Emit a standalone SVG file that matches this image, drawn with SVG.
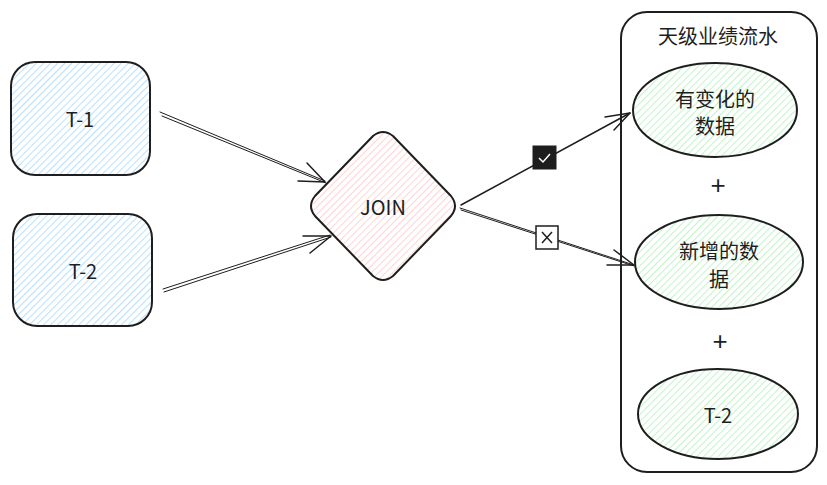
<svg xmlns="http://www.w3.org/2000/svg" width="827" height="485" viewBox="0 0 827 485">
<style>
.sk{stroke:#1e1e1e;stroke-width:2;stroke-linecap:round;stroke-linejoin:round}
.t{font-family:"Noto Sans CJK SC","Liberation Sans",sans-serif;font-size:20px;fill:#1e1e1e;text-anchor:middle;dominant-baseline:central}
.p{font-family:"Liberation Sans",sans-serif;font-size:26px;fill:#1e1e1e;text-anchor:middle;dominant-baseline:central}
.ln{fill:none;stroke:#1e1e1e;stroke-width:1.5;stroke-linecap:round}
.ln2{fill:none;stroke:#1e1e1e;stroke-width:1;stroke-linecap:round}
</style>
<defs>
<pattern id="hb" patternUnits="userSpaceOnUse" width="5" height="5" patternTransform="rotate(45)"><line x1="0" y1="0" x2="0" y2="5" stroke="#a5d8ff" stroke-width="1.6"/></pattern>
<pattern id="hr" patternUnits="userSpaceOnUse" width="5" height="5" patternTransform="rotate(45)"><line x1="0" y1="0" x2="0" y2="5" stroke="#ffc9c9" stroke-width="1.6"/></pattern>
<pattern id="hg" patternUnits="userSpaceOnUse" width="5" height="5" patternTransform="rotate(45)"><line x1="0" y1="0" x2="0" y2="5" stroke="#b2f2bb" stroke-width="1.6"/></pattern>
</defs>
<g id="t1"><rect x="11" y="62" width="139" height="113" rx="24" fill="url(#hb)" class="sk"/><text class="t" x="80" y="118">T-1</text></g>
<g id="t2"><rect x="13" y="214" width="139" height="112" rx="24" fill="url(#hb)" class="sk"/><text class="t" x="83" y="270">T-2</text></g>
<g id="join"><path d="M373,136 Q383,128 393,136 L451,196 Q459,206 451,216 L393,276 Q383,284 373,276 L315,216 Q307,206 315,196 Z" fill="url(#hr)" class="sk"/><text class="t" x="383" y="206" font-size="17">JOIN</text></g>
<g id="container"><rect x="621" y="12" width="196" height="460" rx="26" fill="none" class="sk"/><text class="t" x="718" y="35" font-size="19">天级业绩流水</text></g>
<g id="e1"><ellipse cx="715" cy="110" rx="82" ry="47" fill="url(#hg)" class="sk"/><text class="t" x="715" y="98">有变化的</text><text class="t" x="715" y="125">数据</text></g>
<g id="plus1"><text class="p" x="718" y="185">+</text></g>
<g id="e2"><ellipse cx="719" cy="262" rx="84" ry="47" fill="url(#hg)" class="sk"/><text class="t" x="719" y="250">新增的数</text><text class="t" x="719" y="278">据</text></g>
<g id="plus2"><text class="p" x="720" y="341">+</text></g>
<g id="e3"><ellipse cx="718" cy="414" rx="80" ry="45" fill="url(#hg)" class="sk"/><text class="t" x="718" y="414">T-2</text></g>
<g id="connectors">
<path class="ln2" d="M160,112 L325,181 M162,116 L326,183"/>
<path class="ln" d="M325,182 L298,181 M325,182 L307,163"/>
<path class="ln2" d="M163,289 L330,235 M164,292 L331,237"/>
<path class="ln" d="M331,236 L303,236 M331,236 L310,253"/>
<path class="ln" d="M461,205 L630,113"/>
<path class="ln" d="M630,113 L605,117 M630,113 L614,130"/>
<path class="ln2" d="M460,208 L634,265 M461,210 L634,266"/>
<path class="ln" d="M634,265 L607,265 M634,265 L614,250"/>
<g id="lbl1"><rect x="533" y="146" width="23" height="23" fill="#1e1e1e" stroke="#1e1e1e"/><path d="M539,158 L543,162 L550,154" fill="none" stroke="#fff" stroke-width="1.5"/></g>
<g id="lbl2"><rect x="536" y="226" width="22" height="23" fill="#fff" stroke="#1e1e1e" stroke-width="1.5"/><path d="M542,232 L552,243 M552,232 L542,243" fill="none" stroke="#1e1e1e" stroke-width="1.5"/></g>
</g>
</svg>
